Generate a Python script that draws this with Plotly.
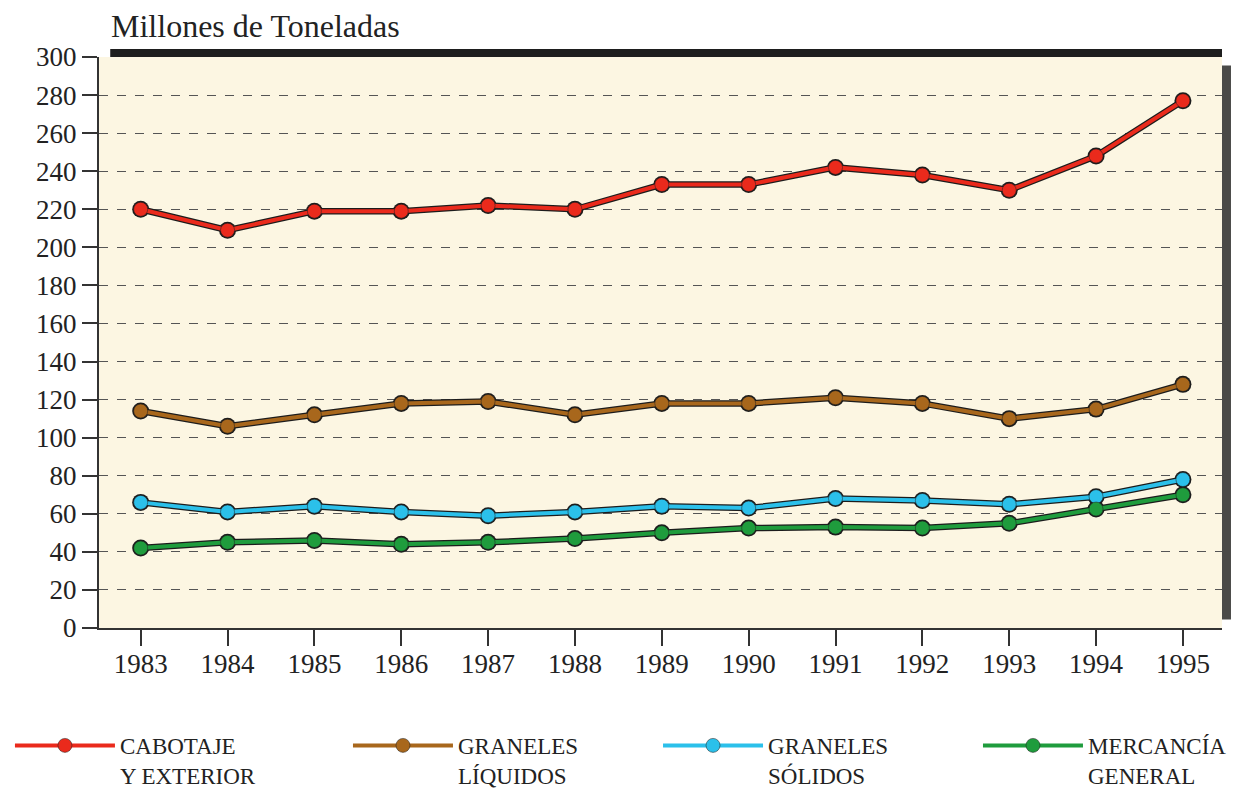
import plotly.graph_objects as go

years = [1983, 1984, 1985, 1986, 1987, 1988, 1989, 1990, 1991, 1992, 1993, 1994, 1995]

cabotaje = [220, 209, 219, 219, 222, 220, 233, 233, 242, 238, 230, 248, 277]
liquidos = [114, 106, 112, 118, 119, 112, 118, 118, 121, 118, 110, 115, 128]
solidos = [66, 61, 64, 61, 59, 61, 64, 63, 68, 67, 65, 69, 78]
mercancia = [42, 45, 46, 44, 45, 47, 50, 52.5, 53, 52.5, 55, 62.5, 70]

names = ["CABOTAJE<br>Y EXTERIOR", "GRANELES<br>LÍQUIDOS", "GRANELES<br>SÓLIDOS", "MERCANCÍA<br>GENERAL"]
colors = ["#ea2a1c", "#a8671c", "#2bc0ea", "#1f9c3d"]
series = [cabotaje, liquidos, solidos, mercancia]
legend_ids = ["legend", "legend2", "legend3", "legend4"]
legend_x = [-0.0793, 0.2217, 0.4978, 0.7827]

serif = "Liberation Serif, DejaVu Serif, Times New Roman, serif"

fig = go.Figure()

# dark outline under every line
for values in series:
    fig.add_trace(go.Scatter(
        x=years, y=values, mode="lines+markers",
        line=dict(color="#1c1c1c", width=6.5),
        marker=dict(size=17, color="#1c1c1c"),
        showlegend=False, hoverinfo="skip"))

for name, values, color, lg in zip(names, series, colors, legend_ids):
    fig.add_trace(go.Scatter(
        x=years, y=values, mode="lines+markers", name=name, legend=lg,
        line=dict(color=color, width=4),
        marker=dict(size=14, color=color, line=dict(color="#1c1c1c", width=0.5))))

legend_style = dict(
    orientation="h", y=-0.168, xanchor="left", yanchor="top",
    valign="top", itemwidth=100,
    font=dict(family=serif, size=23, color="#222222"),
    bgcolor="rgba(0,0,0,0)")

fig.update_layout(
    width=1250, height=792,
    paper_bgcolor="white",
    plot_bgcolor="#fcf6e2",
    margin=dict(l=99, r=28, t=57, b=164, autoexpand=False),
    font=dict(family=serif, color="#222222"),
    annotations=[dict(
        text="Millones de Toneladas", xref="paper", yref="paper",
        x=0.009, y=1.054, xanchor="left", yanchor="middle", showarrow=False,
        font=dict(family=serif, size=32, color="#222222"))],
    shapes=[
        # heavy top border
        dict(type="line", xref="paper", yref="paper", x0=0.01, x1=1.0, y0=1.007, y1=1.007,
             line=dict(color="#1e1e1e", width=8)),
        # right edge shadow
        dict(type="rect", xref="paper", yref="paper", x0=1.0, x1=1.008, y0=0.015, y1=0.985,
             fillcolor="#4a4a48", line=dict(width=0)),
    ],
)
for lg, lx in zip(legend_ids, legend_x):
    fig.update_layout({lg: dict(legend_style, x=lx)})

fig.update_xaxes(
    range=[1982.52, 1995.45], tickvals=years, ticktext=[str(y) for y in years],
    showgrid=False, zeroline=False,
    showline=True, linecolor="#333333", linewidth=2,
    ticks="outside", ticklen=16, tickwidth=2, tickcolor="#333333",
    ticklabelstandoff=-5,
    tickfont=dict(family=serif, size=27, color="#222222"))

fig.update_yaxes(
    range=[0, 300], tickvals=list(range(0, 301, 20)),
    showgrid=True, gridcolor="#555555", gridwidth=1, griddash="dash",
    zeroline=False,
    showline=True, linecolor="#333333", linewidth=2,
    ticks="outside", ticklen=15, tickwidth=2, tickcolor="#333333",
    tickfont=dict(family=serif, size=27, color="#222222"))

fig.write_html("out.html", config={"displayModeBar": False},
               post_script="document.body.style.margin='0';")
